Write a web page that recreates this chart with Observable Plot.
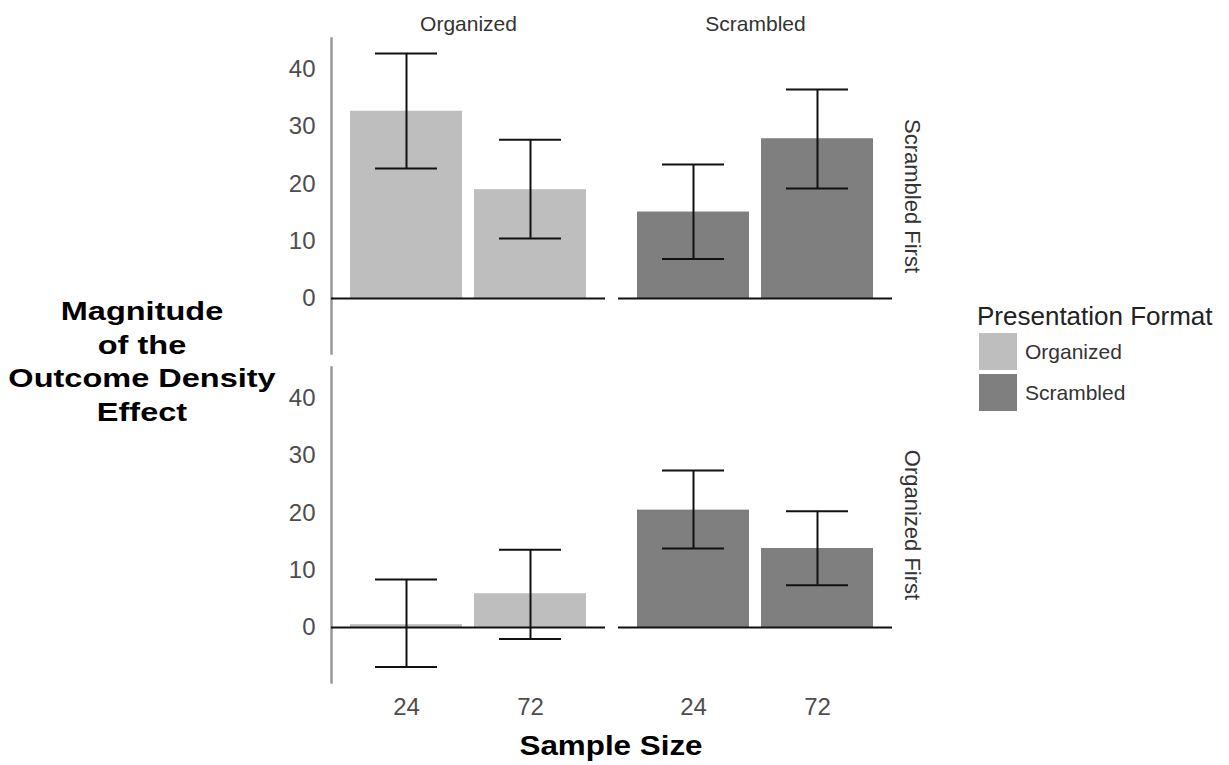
<!DOCTYPE html>
<html>
<head>
<meta charset="utf-8">
<script src="https://cdn.jsdelivr.net/npm/d3@7"></script>
<script src="https://cdn.jsdelivr.net/npm/@observablehq/plot@0.6"></script>
<style>
  html, body { margin: 0; padding: 0; background: #fff; }
  #wrap { position: relative; width: 1229px; height: 765px; font-family: "Liberation Sans", Arial, sans-serif; }
  #chart { position: absolute; left: 0; top: 0; }
  .ytitle { position: absolute; left: 0; top: 295px; width: 284px; text-align: center; font-weight: bold;
            font-size: 26px; line-height: 33.5px; color: #000; transform: scaleX(1.25); transform-origin: center; }
  .xtitle { position: absolute; left: 411px; top: 732px; width: 400px; text-align: center; font-weight: bold;
            font-size: 28px; line-height: 28px; color: #000; transform: scaleX(1.12); transform-origin: center; }
  .legend { position: absolute; left: 977px; top: 303px; }
  .legend .ltitle { font-size: 26px; line-height: 26px; color: #222; white-space: nowrap; }
  .legend .item { display: flex; align-items: center; margin-top: 4px; }
  .legend .item:first-of-type { margin-top: 7px; }
  .legend .sw { width: 38px; height: 37px; margin-left: 2px; }
  .legend .lab { font-size: 21px; color: #333; margin-left: 8px; }
</style>
</head>
<body>
<div id="wrap">
  <div id="chart"></div>
  <div class="ytitle" id="ytitle"></div>
  <div class="xtitle" id="xtitle"></div>
  <div class="legend" id="legend"></div>
</div>
<script>
// ---- Data ----
const formats = ["Organized", "Scrambled"];          // column facets / fill
const orders = ["Scrambled First", "Organized First"]; // row facets
const sampleSizes = ["24", "72"];                     // x categories
const formatColors = ["#bebebe", "#7f7f7f"];
const yTicks = [0, 10, 20, 30, 40];
const yTitleLines = ["Magnitude", "of the", "Outcome Density", "Effect"];
const xTitle = "Sample Size";
const legendTitle = "Presentation Format";

// values indexed [order][format][sampleSize]
const meanEffect = [
  [[32.7, 19.0], [15.1, 27.9]],
  [[0.5, 5.9], [20.5, 13.8]]
];
const lowerCI = [
  [[22.7, 10.5], [6.9, 19.2]],
  [[-6.9, -2.0], [13.8, 7.4]]
];
const upperCI = [
  [[42.8, 27.7], [23.4, 36.5]],
  [[8.4, 13.6], [27.4, 20.3]]
];

const table = [];
orders.forEach((o, i) => formats.forEach((f, j) => sampleSizes.forEach((n, k) => {
  table.push({order: o, format: f, n, mean: meanEffect[i][j][k], lo: lowerCI[i][j][k], hi: upperCI[i][j][k]});
})));

const chart = Plot.plot({
  width: 1229,
  height: 765,
  marginLeft: 330,
  marginRight: 336,
  marginTop: 37,
  marginBottom: 82,
  facet: {marginTop: 0, marginRight: 0, marginBottom: 0, marginLeft: 0},
  style: {fontFamily: "'Liberation Sans', Arial, sans-serif", background: "#fff"},
  x: {domain: sampleSizes, paddingInner: 0.1, paddingOuter: 0.15},
  y: {domain: [-9.6, 45.4]},
  fx: {domain: formats, paddingInner: 0.045, paddingOuter: 0},
  fy: {domain: orders, paddingInner: 0.0424, paddingOuter: 0},
  color: {domain: formats, range: formatColors},
  marks: [
    Plot.frame({anchor: "left", fx: () => formats[0], stroke: "#999", strokeWidth: 2.5}),
    Plot.barY(table, {fx: "format", fy: "order", x: "n", y: "mean", fill: "format"}),
    Plot.ruleY([0], {stroke: "#111", strokeWidth: 2}),
    Plot.ruleX(table, {fx: "format", fy: "order", x: "n", y1: "lo", y2: "hi", stroke: "#111", strokeWidth: 2}),
    Plot.tickY(table, {fx: "format", fy: "order", x: "n", y: "lo", stroke: "#111", strokeWidth: 2, insetLeft: 25, insetRight: 25}),
    Plot.tickY(table, {fx: "format", fy: "order", x: "n", y: "hi", stroke: "#111", strokeWidth: 2, insetLeft: 25, insetRight: 25}),
    Plot.axisY({ticks: yTicks, tickSize: 0, tickPadding: 16, fontSize: 24, fill: "#4d4d4d", label: null}),
    Plot.axisX({tickSize: 0, tickPadding: 15, fontSize: 24, fill: "#4d4d4d", label: null}),
    Plot.axisFx({anchor: "top", tickSize: 0, tickPadding: 8, fontSize: 21, fill: "#333", label: null}),
    Plot.axisFy({anchor: "right", tickSize: 0, tickPadding: 12, tickRotate: 90, fontSize: 22, fill: "#333",
                 textAnchor: "middle", lineAnchor: "bottom", label: null})
  ]
});
document.getElementById("chart").appendChild(chart);

document.getElementById("ytitle").innerHTML = yTitleLines.join("<br>");
document.getElementById("xtitle").textContent = xTitle;
const leg = document.getElementById("legend");
const lt = document.createElement("div");
lt.className = "ltitle"; lt.textContent = legendTitle; leg.appendChild(lt);
formats.forEach((f, i) => {
  const it = document.createElement("div"); it.className = "item";
  const sw = document.createElement("div"); sw.className = "sw"; sw.style.background = formatColors[i];
  const lb = document.createElement("div"); lb.className = "lab"; lb.textContent = f;
  it.appendChild(sw); it.appendChild(lb); leg.appendChild(it);
});
</script>
</body>
</html>
